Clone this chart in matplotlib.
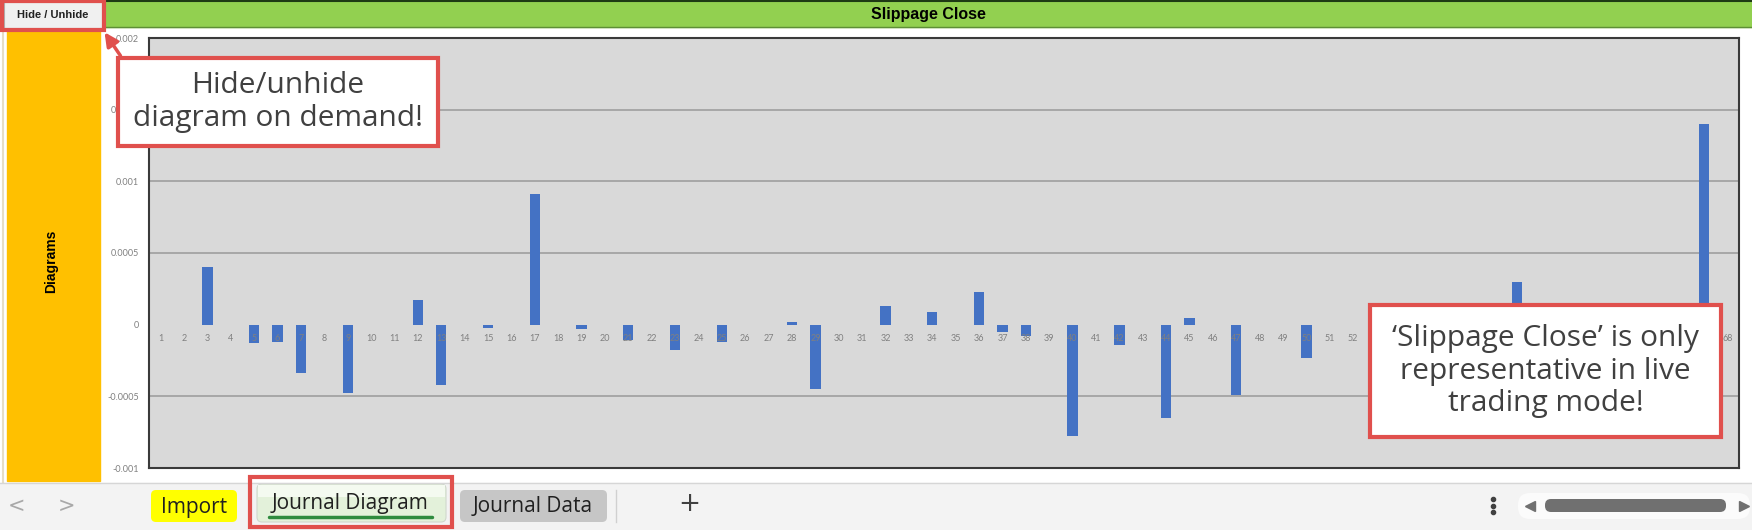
import matplotlib.pyplot as plt
import matplotlib.transforms as mtransforms
from matplotlib.patches import Rectangle, FancyBboxPatch

W, H = 1752, 530

# chart data
trades = list(range(1, 69))
slippage = [0, 0, 0.0004, 0, -0.00013, -0.00012, -0.00034, 0, -0.00048, 0,
            0, 0.00017, -0.00042, 0, -0.00002, 0, 0.00091, 0, -0.00003, 0,
            -0.00011, 0, -0.00018, 0, -0.00012, 0, 0, 0.00002, -0.00045, 0,
            0, 0.00013, 0, 0.00009, 0, 0.00023, -0.00005, -0.00008, 0, -0.00078,
            0, -0.00014, 0, -0.00065, 0.00005, 0, -0.00049, 0, 0, -0.00023,
            0, 0, 0, 0, 0, 0, 0, 0, 0.0003, 0,
            0, 0, 0, 0, 0, 0, 0.0014, 0]
# trade numbers 53-67 sit under the note box in the screenshot
hidden_labels = list(range(53, 68))
y_ticks = [0.002, 0.0015, 0.001, 0.0005, 0, -0.0005, -0.001]
y_labels = ['0.002', '0.0015', '0.001', '0.0005', '0', '-0.0005', '-0.001']

title = 'Slippage Close'
tabs = ['Import', 'Journal Diagram', 'Journal Data']

RED = '#E0504D'
TXT = '#404040'


def frac(x0, y0, x1, y1):
    # pixel box (top-left origin) -> figure fraction
    return [x0 / W, 1 - y1 / H, (x1 - x0) / W, (y1 - y0) / H]


fig = plt.figure(figsize=(W / 100, H / 100), dpi=100)
fig.patch.set_facecolor('white')

# ---- background: spreadsheet frame ----
bg = fig.add_axes([0, 0, 1, 1])
bg.set_xlim(0, W)
bg.set_ylim(H, 0)
bg.axis('off')

bg.add_patch(Rectangle((105, 0), W - 105, 27, color='#92D050'))
bg.plot([105, W], [1, 1], color='#1E3A14', lw=1.5)
bg.plot([105, W], [27, 27], color='#5E8F36', lw=1)
bg.text((105 + W) / 2, 15, title, ha='center', va='center', fontsize=11.5,
        fontweight='bold', family='Liberation Sans', color='black')

bg.add_patch(Rectangle((4, 2), 98, 26, facecolor='#F0F0F0', edgecolor='#B0B0B0', lw=0.8))
bg.text(53, 15, 'Hide / Unhide', ha='center', va='center', fontsize=8,
        fontweight='bold', family='Liberation Sans', color='#202020')

bg.plot([3, 3], [30, 482], color='#E6DDC6', lw=1.5)
bg.add_patch(Rectangle((7, 30), 93, 451, color='#FFC000'))
bg.text(51, 261, 'Diagrams', rotation=90, ha='center', va='center', fontsize=10,
        fontweight='bold', family='Liberation Sans', color='black')

# sheet tab bar
bg.add_patch(Rectangle((0, 483), W, H - 483, color='#F3F3F3'))
bg.plot([0, W], [483, 483], color='#D6D6D6', lw=1)
bg.text(16, 506, '<', ha='center', va='center', fontsize=15, color='#A8A8A8', family='DejaVu Sans')
bg.text(67, 506, '>', ha='center', va='center', fontsize=15, color='#A8A8A8', family='DejaVu Sans')

bg.add_patch(FancyBboxPatch((151, 490), 86, 32, boxstyle='round,pad=0,rounding_size=5',
                            facecolor='#FFFF00', edgecolor='none'))
bg.text(194, 507, tabs[0], ha='center', va='center', fontsize=15, family='Open Sans', color='#202020')

bg.add_patch(FancyBboxPatch((257, 484), 189, 38, boxstyle='round,pad=0,rounding_size=5',
                            facecolor='#E3F1DA', edgecolor='#D0D8CC', lw=0.8))
bg.add_patch(Rectangle((258, 485), 187, 12, facecolor='#F4FAF0', edgecolor='none'))
bg.plot([269, 432], [517, 517], color='#2E8B3E', lw=2.5, solid_capstyle='round')
bg.text(350, 503, tabs[1], ha='center', va='center', fontsize=15, family='Open Sans', color='#202020')

bg.add_patch(FancyBboxPatch((460, 490), 147, 32, boxstyle='round,pad=0,rounding_size=5',
                            facecolor='#C6C6C6', edgecolor='none'))
bg.text(533, 507, tabs[2], ha='center', va='center', fontsize=15, family='Open Sans', color='#202020')

bg.plot([616, 616], [490, 522], color='#D0D0D0', lw=1)
bg.text(689, 504, '+', ha='center', va='center', fontsize=19, color='#404040', family='DejaVu Sans')

bg.plot([1493] * 3, [499, 505.5, 512], 'o', ms=3, color='#404040')
bg.add_patch(FancyBboxPatch((1518, 493), 232, 26, boxstyle='round,pad=0,rounding_size=12',
                            facecolor='#FBFBFB', edgecolor='none'))
bg.plot([1530], [505.5], marker='<', ms=7, color='#707070')
bg.add_patch(FancyBboxPatch((1545, 499), 181, 13, boxstyle='round,pad=0,rounding_size=6',
                            facecolor='#707070', edgecolor='none'))
bg.plot([1744], [505.5], marker='>', ms=7, color='#707070')

# ---- the chart itself ----
ax = fig.add_axes(frac(149, 38, 1739, 468))
ax.set_facecolor('#D9D9D9')
ax.bar(trades, slippage, width=0.44, color='#4472C4', zorder=3)
ax.set_xlim(0.5, len(trades) + 0.5)
ax.set_ylim(-0.001, 0.002)
ax.set_yticks(y_ticks)
ax.set_yticklabels(y_labels)
ax.set_xticks([])
ax.tick_params(axis='y', length=0, pad=7, labelsize=6.5, labelcolor='#808080')
for lab in ax.get_yticklabels():
    lab.set_family('Lato')
for v in y_ticks[1:-1]:
    if v != 0:
        ax.axhline(v, color='#A3A3A3', lw=1.3, zorder=1)
for s in ax.spines.values():
    s.set_color('#3A3A3A')
    s.set_linewidth(1.5)

lab_tr = mtransforms.offset_copy(ax.transData, fig=fig, y=-14, units='dots')
for t in trades:
    if t in hidden_labels:
        continue
    ax.text(t, 0, str(t), transform=lab_tr, ha='center', va='center',
            fontsize=6.5, color='#808080', family='Lato', zorder=4)

# ---- overlay: callouts ----
ov = fig.add_axes([0, 0, 1, 1])
ov.set_xlim(0, W)
ov.set_ylim(H, 0)
ov.axis('off')
ov.patch.set_alpha(0)

ov.add_patch(Rectangle((2, 1), 102, 29, facecolor='none', edgecolor=RED, lw=3))
ov.add_patch(Rectangle((250, 477), 202, 50, facecolor='none', edgecolor=RED, lw=3))

ov.add_patch(Rectangle((118, 58), 320, 88, facecolor='white', edgecolor=RED, lw=3))
ov.text(278, 102, 'Hide/unhide\ndiagram on demand!', ha='center', va='center',
        fontsize=21.5, family='Open Sans', color=TXT, linespacing=1.15)
ov.annotate('', xy=(103, 30), xytext=(122, 58),
            arrowprops=dict(arrowstyle='-|>,head_length=0.8,head_width=0.4', color=RED, lw=2.5))

ov.add_patch(Rectangle((1370, 305), 351, 132, facecolor='white', edgecolor=RED, lw=3))
ov.text(1545.5, 371, '\u2018Slippage Close\u2019 is only\nrepresentative in live\ntrading mode!',
        ha='center', va='center', fontsize=21.5, family='Open Sans', color=TXT, linespacing=1.15)

fig.savefig('out.png', dpi=100)
